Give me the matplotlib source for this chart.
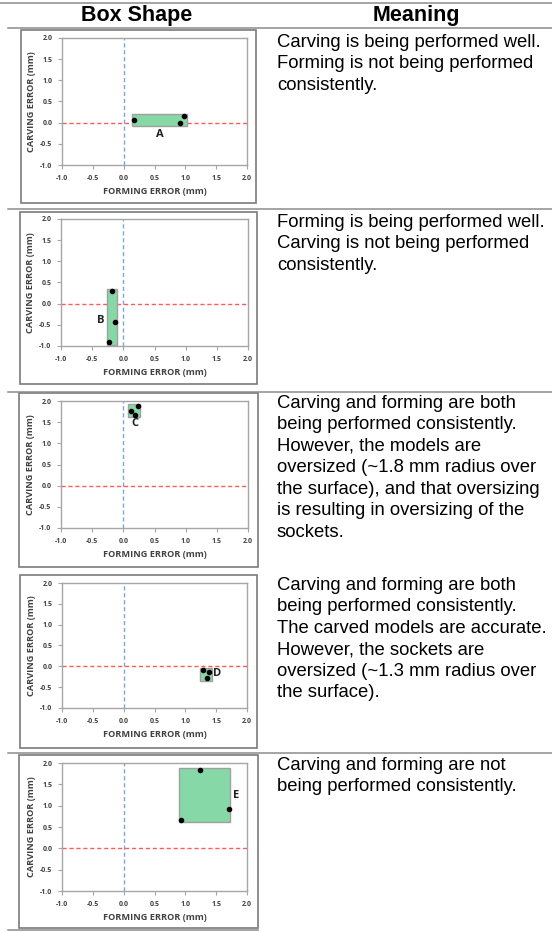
import matplotlib.pyplot as plt
from matplotlib.patches import Rectangle
from matplotlib.lines import Line2D

# data
box_labels = ["A", "B", "C", "D", "E"]
box_x0 = [0.13, -0.27, 0.08, 1.24, 0.89]
box_x1 = [1.02, -0.10, 0.27, 1.43, 1.73]
box_y0 = [-0.08, -0.97, 1.62, -0.35, 0.62]
box_y1 = [0.21, 0.35, 1.93, -0.03, 1.89]

points_x = [[0.17, 0.91, 0.98], [-0.18, -0.14, -0.23], [0.12, 0.23, 0.19],
            [1.28, 1.39, 1.35], [1.23, 1.70, 0.93]]
points_y = [[0.07, -0.01, 0.15], [0.29, -0.44, -0.91], [1.76, 1.89, 1.67],
            [-0.09, -0.13, -0.29], [1.84, 0.92, 0.66]]

label_x = [0.59, -0.36, 0.19, 1.51, 1.82]
label_y = [-0.27, -0.39, 1.46, -0.18, 1.24]

ticks = [-1.0, -0.5, 0.0, 0.5, 1.0, 1.5, 2.0]

meanings = [
    "Carving is being performed well.\nForming is not being performed\nconsistently.",
    "Forming is being performed well.\nCarving is not being performed\nconsistently.",
    "Carving and forming are both\nbeing performed consistently.\nHowever, the models are\n"
    "oversized (~1.8 mm radius over\nthe surface), and that oversizing\n"
    "is resulting in oversizing of the\nsockets.",
    "Carving and forming are both\nbeing performed consistently.\nThe carved models are accurate.\n"
    "However, the sockets are\noversized (~1.3 mm radius over\nthe surface).",
    "Carving and forming are not\nbeing performed consistently.",
]

# layout in pixels (x0, y0, x1, y1)
W, H = 552, 933
frames = [(21, 30, 256, 203), (20, 212, 257, 384), (19, 393, 258, 567),
          (20, 575, 257, 748), (19, 755, 258, 928)]
axes_px = [(62, 38, 247, 165), (61, 219, 248, 346), (61, 401, 248, 528),
           (62, 583, 247, 708), (62, 763, 247, 891)]
text_base = [48, 228, 409, 591, 771]
rules = [(0, 3, 552), (8, 28, 552), (8, 209, 552), (8, 392, 552), (8, 753, 552), (8, 930, 258)]

fig = plt.figure(figsize=(W / 100, H / 100), dpi=100)


def fx(x):
    return x / W


def fy(y):
    return 1 - y / H


for x0, y, x1 in rules:
    fig.add_artist(Line2D([fx(x0), fx(x1)], [fy(y), fy(y)], color="#8c8c8c", lw=1.1))

fig.text(fx(137), fy(16), "Box Shape", ha="center", va="center",
         fontsize=15.5, fontweight="bold", family="Liberation Sans")
fig.text(fx(416), fy(16), "Meaning", ha="center", va="center",
         fontsize=15.5, fontweight="bold", family="Liberation Sans")

font_small = "Open Sans"
for i in range(5):
    x0, y0, x1, y1 = frames[i]
    fig.add_artist(Rectangle((fx(x0), fy(y1)), fx(x1 - x0), (y1 - y0) / H,
                             fill=False, ec="#7a7a7a", lw=1.2))

    a0, b0, a1, b1 = axes_px[i]
    ax = fig.add_axes([fx(a0), fy(b1), fx(a1 - a0), (b1 - b0) / H])
    ax.set_xlim(-1, 2)
    ax.set_ylim(-1, 2)
    ax.set_xticks(ticks)
    ax.set_yticks(ticks)
    ax.set_xticklabels([f"{t:.1f}" for t in ticks])
    ax.set_yticklabels([f"{t:.1f}" for t in ticks])
    for s in ax.spines.values():
        s.set_color("#a6a6a6")
        s.set_linewidth(1.0)
    ax.tick_params(length=3, width=0.8, color="#a6a6a6", labelsize=5,
                   labelcolor="#404040", pad=4)
    for lab in ax.get_xticklabels() + ax.get_yticklabels():
        lab.set_fontweight("bold")
        lab.set_family(font_small)

    ax.axhline(0, color="#ff5a5a", lw=1.0, ls=(0, (3, 2)), zorder=1)
    ax.axvline(0, color="#7aa6dc", lw=1.0, ls=(0, (3, 2)), zorder=1)

    ax.add_patch(Rectangle((box_x0[i], box_y0[i]), box_x1[i] - box_x0[i],
                           box_y1[i] - box_y0[i], fc="#86d9a6", ec="#a0a0a0",
                           lw=1.0, zorder=2))
    ax.scatter(points_x[i], points_y[i], s=9, color="black", zorder=3)
    ax.text(label_x[i], label_y[i], box_labels[i], ha="center", va="center",
            fontsize=8, fontweight="bold", family=font_small, color="#202020")

    ax.set_xlabel("FORMING ERROR (mm)", fontsize=6.6, fontweight="bold",
                  family=font_small, color="#404040", labelpad=4)
    ax.set_ylabel("CARVING ERROR (mm)", fontsize=6.6, fontweight="bold",
                  family=font_small, color="#404040", labelpad=3)

    fig.text(fx(277), fy(text_base[i] - 14), meanings[i], ha="left", va="top",
             fontsize=13.3, family="Liberation Sans", linespacing=1.34)

fig.savefig("out.png", dpi=100)
